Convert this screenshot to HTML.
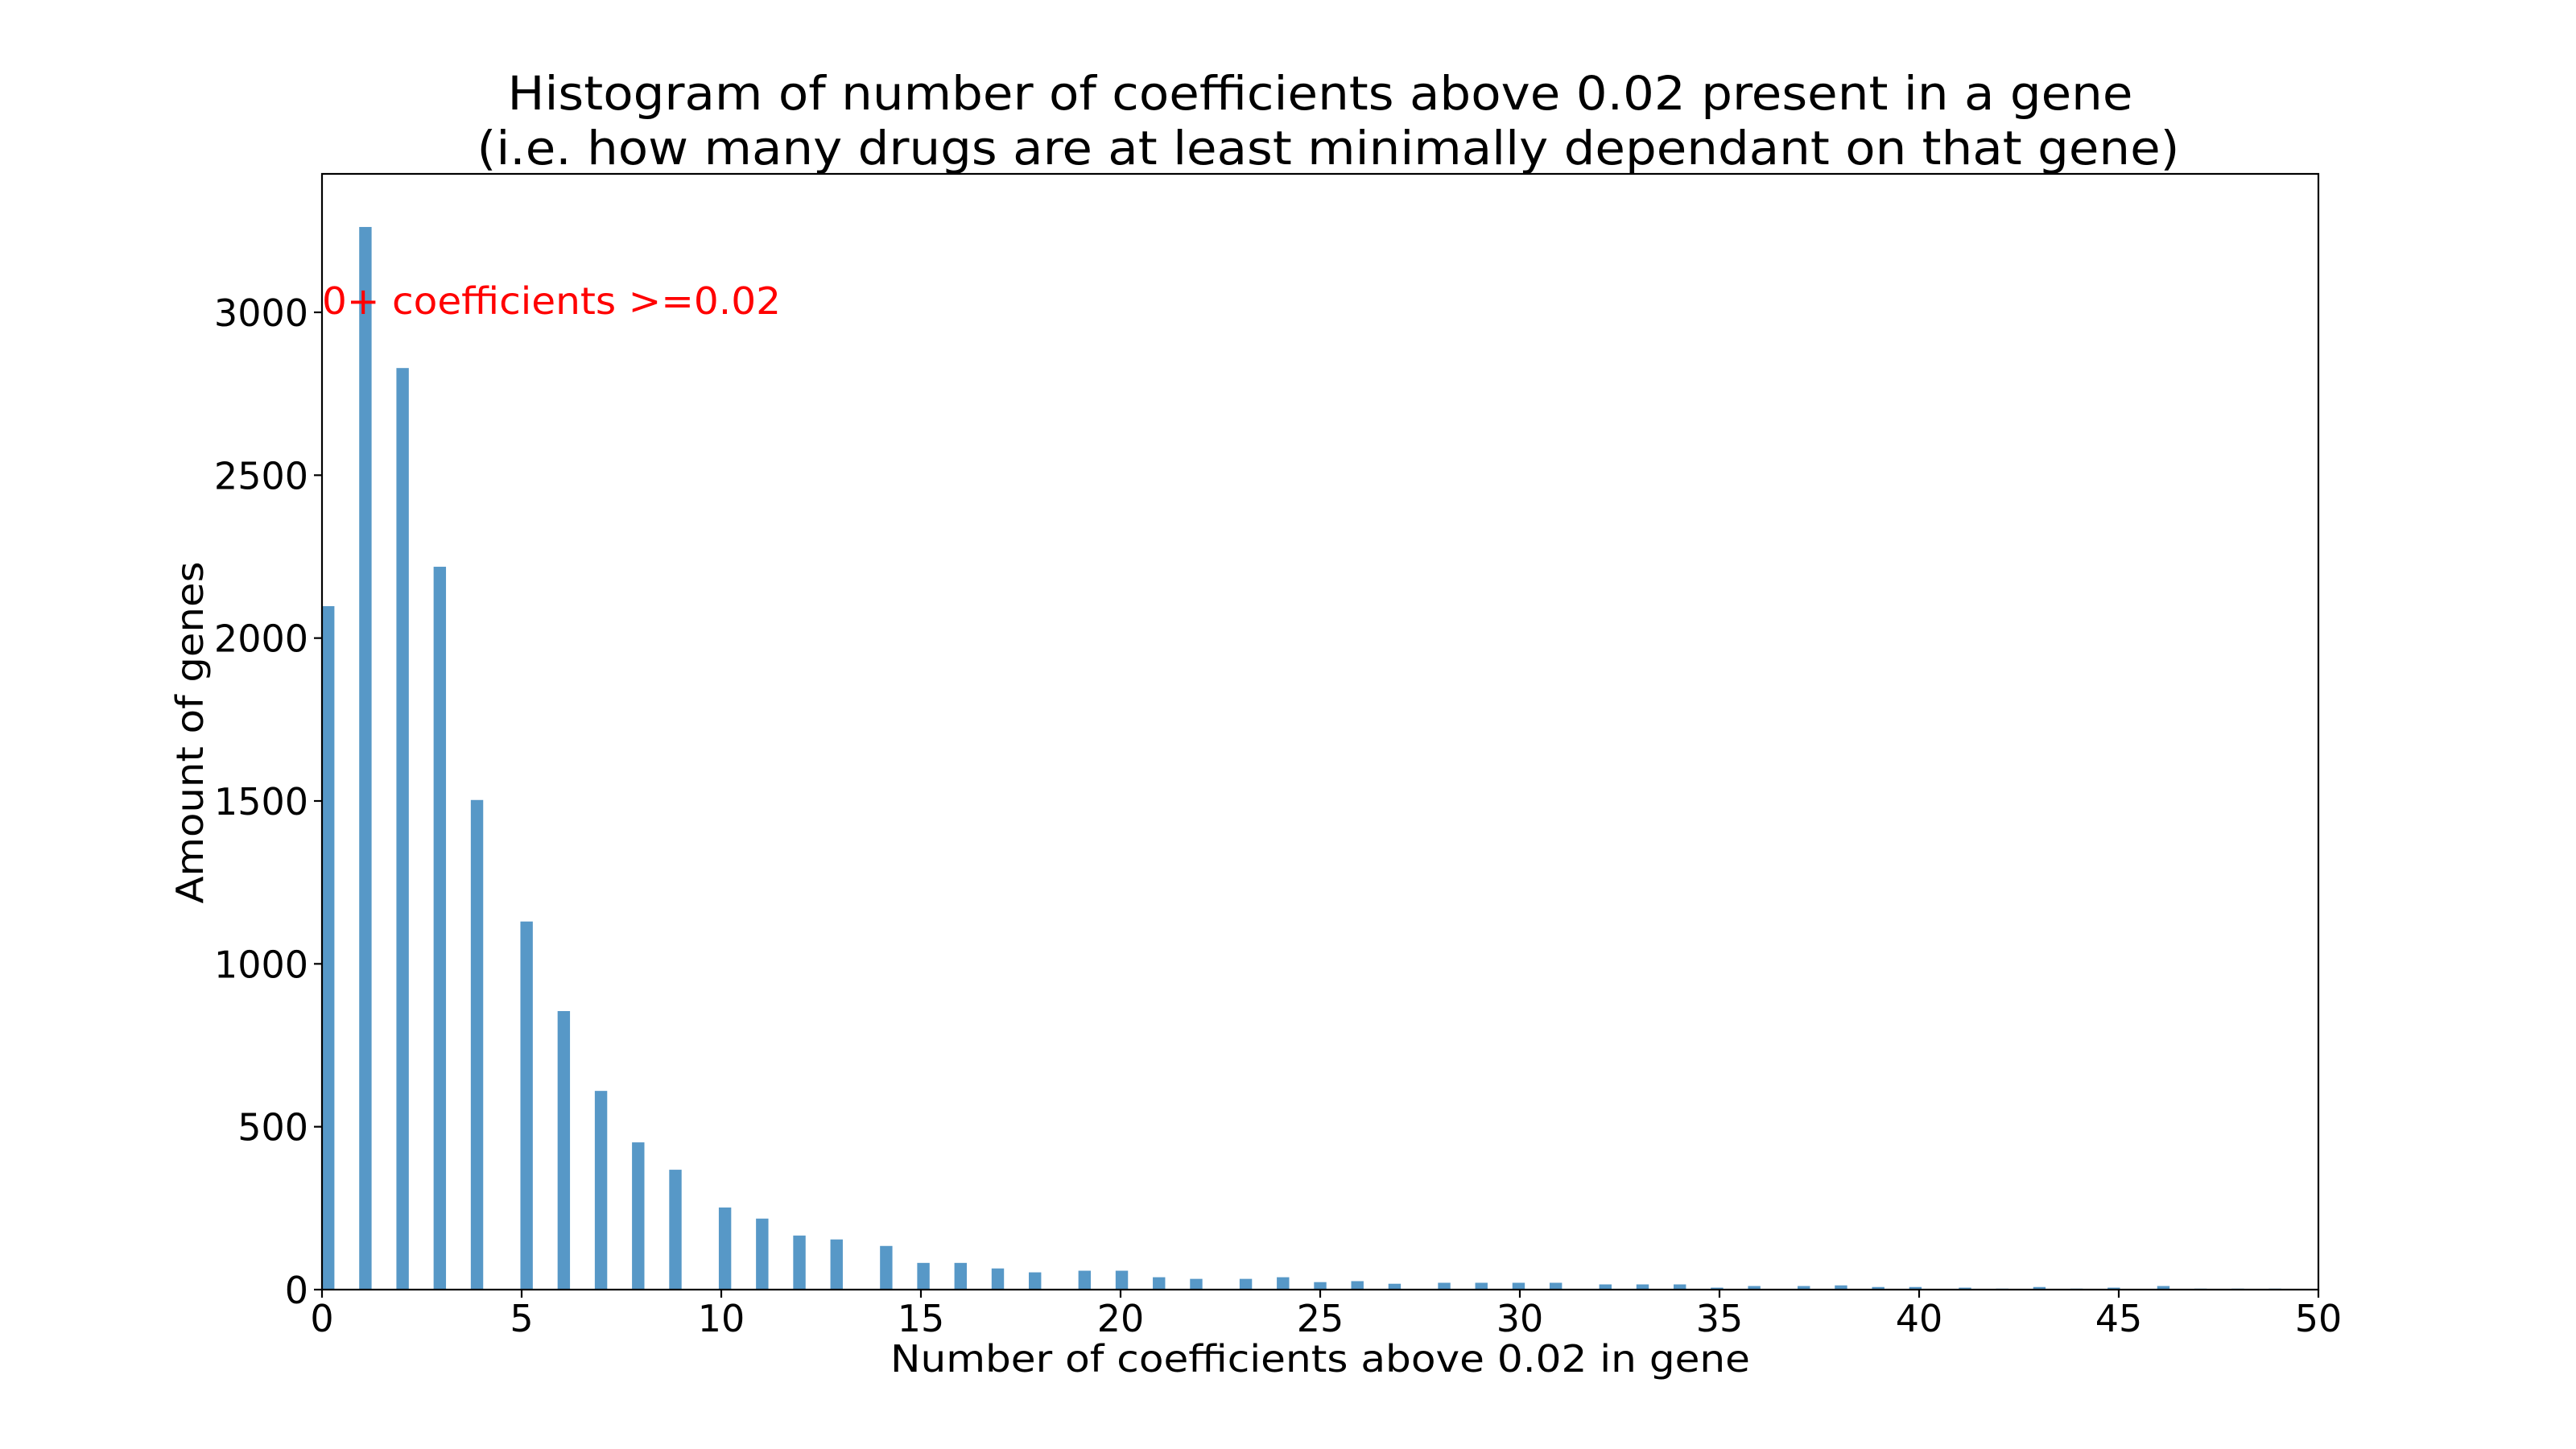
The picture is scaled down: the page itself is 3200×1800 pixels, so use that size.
<!DOCTYPE html>
<html><head><meta charset="utf-8"><style>
html,body{margin:0;padding:0;background:#fff;}
svg{display:block;font-family:"DejaVu Sans","Liberation Sans",sans-serif;}
</style></head><body>
<svg id="chart" width="3200" height="1800" viewBox="0 0 3200 1800" xmlns="http://www.w3.org/2000/svg">
<rect x="0" y="0" width="3200" height="1800" fill="#fff"/>
<g id="bars"></g>
<g id="axes"></g>
<text x="1640" y="136" font-size="58" text-anchor="middle" textLength="2019" lengthAdjust="spacingAndGlyphs">Histogram of number of coefficients above 0.02 present in a gene</text>
<text x="1650" y="204" font-size="58" text-anchor="middle" textLength="2115" lengthAdjust="spacingAndGlyphs">(i.e. how many drugs are at least minimally dependant on that gene)</text>
<text x="1640" y="1704" font-size="46" text-anchor="middle" textLength="1068" lengthAdjust="spacingAndGlyphs">Number of coefficients above 0.02 in gene</text>
<text transform="translate(252,910) rotate(-90)" font-size="46" text-anchor="middle" textLength="425" lengthAdjust="spacingAndGlyphs">Amount of genes</text>
<text x="400" y="390" font-size="46" fill="#ff0000" textLength="570" lengthAdjust="spacingAndGlyphs">0+ coefficients &gt;=0.02</text>
</svg>
<script>
const counts = [2098,3262,2829,2219,1503,1130,855,610,452,368,252,218,166,154,134,82,82,65,53,58,58,38,33,33,38,23,26,18,21,21,21,21,16,16,16,6,11,11,13,8,8,6,3,8,3,6,11,3,3,3];
const xTicks = [0,5,10,15,20,25,30,35,40,45,50];
const yTicks = [0,500,1000,1500,2000,2500,3000];
const binW = 50/161;
const L=400,R=2880,T=216,B=1602,XMAX=50,YMAX=3425;
const NS="http://www.w3.org/2000/svg";
function sx(v){return L+(v/XMAX)*(R-L);}
function sy(v){return B-(v/YMAX)*(B-T);}
const bars=document.getElementById('bars');
counts.forEach((c,k)=>{
  const x0=Math.floor(k/binW+1e-9)*binW;
  const r=document.createElementNS(NS,'rect');
  r.setAttribute('x',sx(x0));
  r.setAttribute('width',sx(x0+binW)-sx(x0));
  r.setAttribute('y',sy(c));
  r.setAttribute('height',B-sy(c));
  r.setAttribute('fill','#5798c7');
  
  
  bars.appendChild(r);
});
const ax=document.getElementById('axes');
const frame=document.createElementNS(NS,'rect');
frame.setAttribute('x',L);frame.setAttribute('y',T);
frame.setAttribute('width',R-L);frame.setAttribute('height',B-T);
frame.setAttribute('fill','none');frame.setAttribute('stroke','#000');frame.setAttribute('stroke-width','2.2');


ax.appendChild(frame);
xTicks.forEach(v=>{
  const l=document.createElementNS(NS,'line');
  l.setAttribute('x1',sx(v));l.setAttribute('x2',sx(v));l.setAttribute('y1',B);l.setAttribute('y2',B+10);
  l.setAttribute('stroke','#000');l.setAttribute('stroke-width','2.2');
  
  
  ax.appendChild(l);
  const t=document.createElementNS(NS,'text');
  t.setAttribute('x',sx(v));t.setAttribute('y',B+52);t.setAttribute('font-size','46');t.setAttribute('text-anchor','middle');
  t.textContent=v;
  
  
  ax.appendChild(t);
});
yTicks.forEach(v=>{
  const l=document.createElementNS(NS,'line');
  l.setAttribute('x1',L-10);l.setAttribute('x2',L);l.setAttribute('y1',sy(v));l.setAttribute('y2',sy(v));
  l.setAttribute('stroke','#000');l.setAttribute('stroke-width','2.2');
  
  
  ax.appendChild(l);
  const t=document.createElementNS(NS,'text');
  t.setAttribute('x',L-17);t.setAttribute('y',sy(v)+17);t.setAttribute('font-size','46');t.setAttribute('text-anchor','end');
  t.textContent=v;
  
  
  ax.appendChild(t);
});
</script>
</body></html>
